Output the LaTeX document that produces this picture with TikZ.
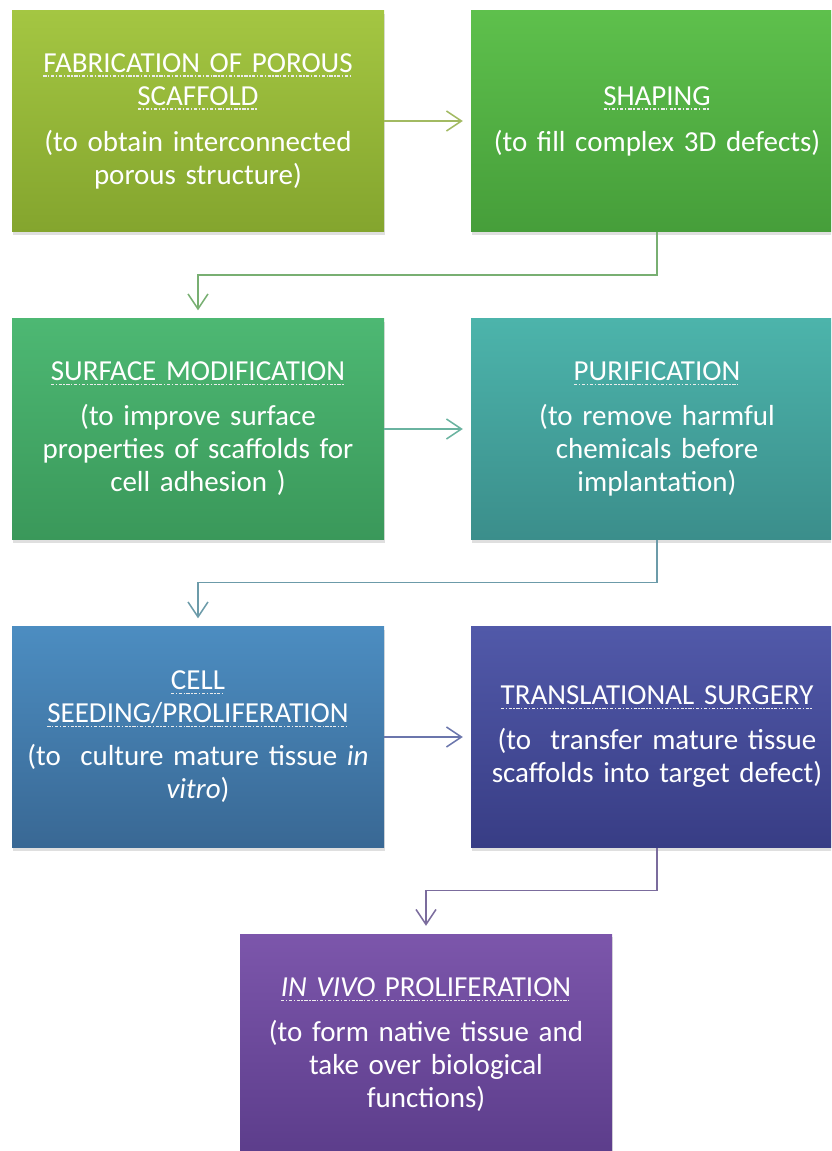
\documentclass[tikz,border=0pt]{standalone}
\usepackage{fontspec}
\setmainfont{Carlito}[WordSpace=0.8]
\usetikzlibrary{arrows.meta,shadows}

% dash-dot underline for the step titles
\newsavebox\hdbox
\newcommand\hdmark{\hbox{\textcolor{white!85!gray}{\rule{3.2pt}{1.1pt}}\kern1.6pt\textcolor{white!85!gray}{\rule{1.3pt}{1.1pt}}\kern1.6pt}}
\newcommand\hdline[1]{\sbox\hdbox{#1}\leavevmode\rlap{\lower4.5pt\hbox to\wd\hdbox{\xleaders\hdmark\hfill}}\usebox\hdbox}

\definecolor{fabTop}{HTML}{A4C642}
\definecolor{fabBot}{HTML}{84A52E}
\definecolor{shpTop}{HTML}{5EC04C}
\definecolor{shpBot}{HTML}{469E3A}
\definecolor{sfmTop}{HTML}{4DB873}
\definecolor{sfmBot}{HTML}{3A985A}
\definecolor{purTop}{HTML}{4CB4AB}
\definecolor{purBot}{HTML}{3B8E8B}
\definecolor{clsTop}{HTML}{4C8DC1}
\definecolor{clsBot}{HTML}{396894}
\definecolor{trsTop}{HTML}{5159A9}
\definecolor{trsBot}{HTML}{383D85}
\definecolor{ivvTop}{HTML}{7C56AB}
\definecolor{ivvBot}{HTML}{5C3D8B}
\definecolor{arrA}{HTML}{A2BA62}
\definecolor{arrB}{HTML}{78AF72}
\definecolor{arrC}{HTML}{6AB3A0}
\definecolor{arrD}{HTML}{6C9BA9}
\definecolor{arrE}{HTML}{6B76AC}
\definecolor{arrF}{HTML}{7B6C9D}

\tikzset{
  stepbox/.style={rectangle, minimum width=372pt, minimum height=221pt,
    inner sep=0pt, text=white, text width=364pt, align=center,
    font=\fontsize{29}{33}\selectfont,
    drop shadow={shadow xshift=1pt, shadow yshift=-3pt, opacity=0.25}},
  link/.style={line width=1.5pt, -{Straight Barb[length=15pt,width=20pt]}, shorten >=8pt}
}

\begin{document}
\begin{tikzpicture}[x=1pt,y=1pt,yscale=-1,xscale=1]
\path[use as bounding box] (0,0) rectangle (831,1151);
\clip (0,0) rectangle (831,1151);

%Step boxes
\node[stepbox, top color=fabTop, bottom color=fabBot] (fab) at (198,121)
  {\hdline{FABRICATION OF POROUS}\\\hdline{SCAFFOLD}\\[13pt](to obtain interconnected\\porous structure)};
\node[stepbox, top color=shpTop, bottom color=shpBot] (shp) at (657,121)
  {\hdline{SHAPING}\\[13pt](to fill complex 3D defects)};
\node[stepbox, top color=sfmTop, bottom color=sfmBot] (sfm) at (198,429)
  {\hdline{SURFACE MODIFICATION}\\[12pt](to improve surface\\properties of scaffolds for\\cell adhesion )};
\node[stepbox, top color=purTop, bottom color=purBot] (pur) at (657,429)
  {\hdline{PURIFICATION}\\[12pt](to remove harmful\\chemicals before\\implantation)};
\node[stepbox, top color=clsTop, bottom color=clsBot] (cls) at (198,737)
  {\hdline{CELL}\\\hdline{SEEDING/PROLIFERATION}\\[10pt](to\ \ culture mature tissue \textit{in}\\\textit{vitro})};
\node[stepbox, top color=trsTop, bottom color=trsBot] (trs) at (657,737)
  {\hdline{TRANSLATIONAL SURGERY}\\[12pt](to\ \ transfer mature tissue\\scaffolds into target defect)};
\node[stepbox, top color=ivvTop, bottom color=ivvBot] (ivv) at (426,1044.5)
  {\hdline{\textit{IN VIVO} PROLIFERATION}\\[12pt](to form native tissue and\\take over biological\\functions)};

%Connectors
\draw[link, arrA] (fab.east) -- (shp.west);
\draw[link, arrB] (shp.south) -- ++(0,43.5) -| (sfm.north);
\draw[link, arrC] (sfm.east) -- (pur.west);
\draw[link, arrD] (pur.south) -- ++(0,43) -| (cls.north);
\draw[link, arrE] (cls.east) -- (trs.west);
\draw[link, arrF] (trs.south) -- ++(0,43) -| (ivv.north);

\end{tikzpicture}
\end{document}
